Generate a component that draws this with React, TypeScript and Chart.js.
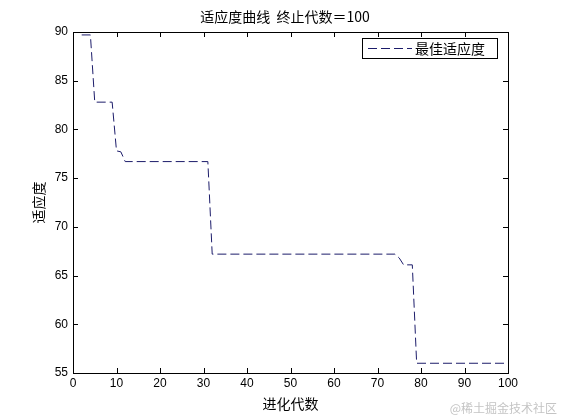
import React, { useRef, useEffect } from 'react';
import { Chart, registerables } from 'chart.js';

Chart.register(...registerables);

// change points of the best-fitness curve (generation, value)
const generations = [2, 4, 5, 9, 10, 11, 12, 31, 32, 74, 75, 76, 78, 79, 100];
const bestFitness = [89.7, 89.7, 82.8, 82.8, 77.8, 77.7, 76.7, 76.7, 67.2, 67.2, 66.8, 66.1, 66.1, 56.0, 56.0];

const chartTitle = '适应度曲线  终止代数＝100';
const xTitle = '进化代数';
const yTitle = '适应度';
const seriesLabel = '最佳适应度';
const watermark = '@稀土掘金技术社区';

const lineColor = '#1c1c6a';
const tickFont = { family: 'Liberation Sans, Arial, sans-serif', size: 12 };
const cjkFont = '"Noto Sans CJK SC", sans-serif';

const matlabFrame = {
  id: 'matlabFrame',
  afterDraw(chart: any) {
    const { ctx, chartArea: a, scales } = chart;
    ctx.save();
    ctx.strokeStyle = '#000';
    ctx.lineWidth = 1;
    ctx.setLineDash([]);
    ctx.strokeRect(Math.round(a.left) + 0.5, Math.round(a.top) + 0.5, Math.round(a.right - a.left), Math.round(a.bottom - a.top));

    // inward ticks on all four sides
    const len = 5;
    ctx.beginPath();
    scales.x.ticks.forEach((t: any) => {
      const px = Math.round(scales.x.getPixelForValue(t.value)) + 0.5;
      ctx.moveTo(px, a.bottom);
      ctx.lineTo(px, a.bottom - len);
      ctx.moveTo(px, a.top);
      ctx.lineTo(px, a.top + len);
    });
    scales.y.ticks.forEach((t: any) => {
      const py = Math.round(scales.y.getPixelForValue(t.value)) + 0.5;
      ctx.moveTo(a.left, py);
      ctx.lineTo(a.left + len, py);
      ctx.moveTo(a.right, py);
      ctx.lineTo(a.right - len, py);
    });
    ctx.stroke();

    // title
    ctx.fillStyle = '#000';
    ctx.font = `14px ${cjkFont}`;
    ctx.textAlign = 'center';
    ctx.textBaseline = 'middle';
    ctx.fillText(chartTitle, 285, 17);

    // legend box
    const lx = 362, ly = 38, lw = 135, lh = 20;
    ctx.fillStyle = '#fff';
    ctx.fillRect(lx, ly, lw, lh);
    ctx.strokeStyle = '#000';
    ctx.strokeRect(lx + 0.5, ly + 0.5, lw, lh);
    ctx.strokeStyle = lineColor;
    ctx.setLineDash([9, 4]);
    ctx.beginPath();
    ctx.moveTo(368, ly + lh / 2 + 0.5);
    ctx.lineTo(412, ly + lh / 2 + 0.5);
    ctx.stroke();
    ctx.setLineDash([]);
    ctx.fillStyle = '#000';
    ctx.textAlign = 'left';
    ctx.fillText(seriesLabel, 415, ly + lh / 2 + 1);

    // watermark
    ctx.fillStyle = '#c4c4c4';
    ctx.font = `12px ${cjkFont}`;
    ctx.textAlign = 'right';
    ctx.fillText(watermark, 557, 408);
    ctx.restore();
  },
};

const App: React.FC = () => {
  const canvasRef = useRef<HTMLCanvasElement>(null);

  useEffect(() => {
    if (!canvasRef.current) return;
    const ctx = canvasRef.current.getContext('2d');
    if (!ctx) return;
    const chart = new Chart(ctx, {
      type: 'line',
      data: {
        datasets: [
          {
            label: seriesLabel,
            data: generations.map((g, i) => ({ x: g, y: bestFitness[i] })),
            borderColor: lineColor,
            borderWidth: 1,
            borderDash: [9, 4],
            pointRadius: 0,
            fill: false,
            tension: 0,
          },
        ],
      },
      options: {
        responsive: false,
        animation: false,
        devicePixelRatio: 1,
        layout: { padding: { top: 32, right: 53, left: 0, bottom: 0 } },
        plugins: {
          legend: { display: false },
          title: { display: false },
          tooltip: { enabled: false },
        },
        scales: {
          x: {
            type: 'linear',
            min: 0,
            max: 100,
            ticks: { stepSize: 10, color: '#000', font: tickFont, padding: 3, maxRotation: 0 },
            grid: { display: false, drawTicks: false },
            border: { display: false },
            title: { display: true, text: xTitle, color: '#000', font: { family: cjkFont, size: 14 }, padding: { top: 0, bottom: 8 } },
            afterFit: (s: any) => { s.height = 47; },
          },
          y: {
            type: 'linear',
            min: 55,
            max: 90,
            ticks: { stepSize: 5, color: '#000', font: tickFont, padding: 5 },
            grid: { display: false, drawTicks: false },
            border: { display: false },
            title: { display: true, text: yTitle, color: '#000', font: { family: cjkFont, size: 14 }, padding: { top: 30, bottom: 0 } },
            afterFit: (s: any) => { s.width = 73; },
          },
        },
      },
      plugins: [matlabFrame],
    });
    return () => chart.destroy();
  }, []);

  return (
    <div style={{ position: 'absolute', left: 0, top: 0, width: 561, height: 420, background: '#fff' }}>
      <canvas ref={canvasRef} width={561} height={420} />
    </div>
  );
};

export default App;
